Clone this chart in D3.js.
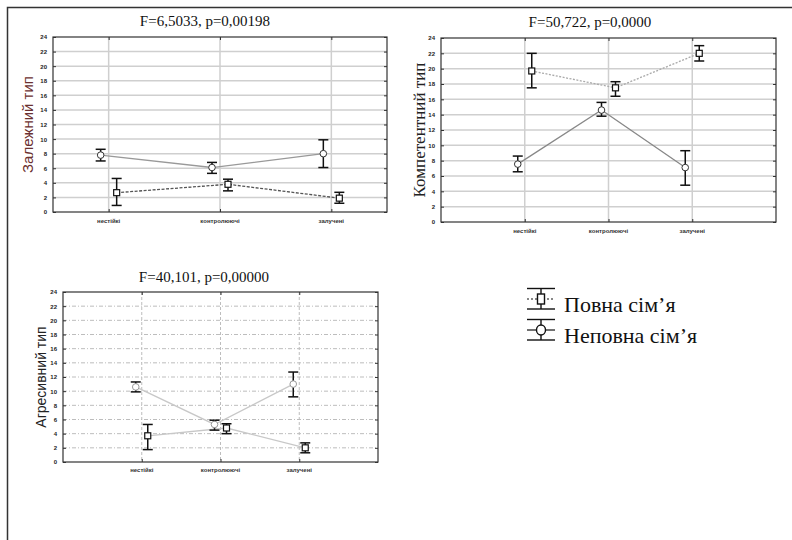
<!DOCTYPE html>
<html>
<head>
<meta charset="utf-8">
<script src="https://cdn.jsdelivr.net/npm/d3@7"></script>
<style>
  body { margin: 0; background: #fff; }
  svg { display: block; }
</style>
</head>
<body>
<div id="vis"></div>
<script>
// data
const categories = ["нестійкі", "контролюючі", "залучені"];
const yTicks = [0, 2, 4, 6, 8, 10, 12, 14, 16, 18, 20, 22, 24];
const seriesNames = ["Повна сім’я", "Неповна сім’я"];

const dependentFull = [2.65, 3.8, 1.9];
const dependentFullLo = [0.9, 2.9, 1.2];
const dependentFullHi = [4.6, 4.5, 2.7];
const dependentSingle = [7.8, 6.1, 8.0];
const dependentSingleLo = [7.0, 5.3, 6.1];
const dependentSingleHi = [8.6, 6.8, 9.9];

const competentFull = [19.7, 17.5, 22.0];
const competentFullLo = [17.5, 16.4, 21.0];
const competentFullHi = [22.0, 18.3, 23.0];
const competentSingle = [7.55, 14.6, 7.1];
const competentSingleLo = [6.55, 13.8, 4.8];
const competentSingleHi = [8.6, 15.6, 9.3];

const aggressiveFull = [3.7, 4.8, 2.0];
const aggressiveFullLo = [1.75, 4.0, 1.3];
const aggressiveFullHi = [5.3, 5.4, 2.7];
const aggressiveSingle = [10.6, 5.3, 11.0];
const aggressiveSingleLo = [9.9, 4.5, 9.2];
const aggressiveSingleHi = [11.3, 5.9, 12.7];

const width = 792;
const height = 540;

let svg = d3.select("#vis")
    .append("svg")
    .attr("width", width)
    .attr("height", height);

svg.append("rect").attr("width", width).attr("height", height).attr("fill", "#fff");

// page frame
svg.append("path")
    .attr("d", "M7.5,540 L7.5,7.5 L792,7.5")
    .attr("fill", "none")
    .attr("stroke", "#333")
    .attr("stroke-width", 1.5);

const toRows = (m, lo, hi) => m.map((v, i) => ({ i: i, v: v, lo: lo[i], hi: hi[i] }));

const panels = [
    {
        left: 53, right: 387, top: 37, bottom: 212, domain: [0.5, 3.5],
        title: "F=6,5033, p=0,00198", titleX: 205, titleY: 26,
        yTitle: "Залежний тип", yTitleX: 28, yTitleFont: "15px 'Liberation Sans', Arial, sans-serif", yTitleColor: "#6b3030",
        full: toRows(dependentFull, dependentFullLo, dependentFullHi),
        single: toRows(dependentSingle, dependentSingleLo, dependentSingleHi),
        fullLine: { color: "#555", dash: "3,1.5" }, singleLine: { color: "#999", dash: null },
        grid: { color: "#cfcfcf", dash: null, width: 1.5 }, off: 8, catY: 223, circleStroke: "#333"
    },
    {
        left: 441, right: 776, top: 38, bottom: 222, domain: [0, 4],
        title: "F=50,722, p=0,0000", titleX: 590, titleY: 27,
        yTitle: "Компетентний тип", yTitleX: 419, yTitleFont: "17px 'Liberation Serif', 'Times New Roman', serif", yTitleColor: "#222",
        full: toRows(competentFull, competentFullLo, competentFullHi),
        single: toRows(competentSingle, competentSingleLo, competentSingleHi),
        fullLine: { color: "#aaa", dash: "2,1.5" }, singleLine: { color: "#888", dash: null },
        grid: { color: "#cfcfcf", dash: null, width: 1.5 }, off: 7, catY: 233, circleStroke: "#333"
    },
    {
        left: 63, right: 378, top: 292, bottom: 462, domain: [0, 4],
        title: "F=40,101, p=0,00000", titleX: 204, titleY: 282,
        yTitle: "Агресивний тип", yTitleX: 41, yTitleFont: "14px 'Liberation Sans', Arial, sans-serif", yTitleColor: "#222",
        full: toRows(aggressiveFull, aggressiveFullLo, aggressiveFullHi),
        single: toRows(aggressiveSingle, aggressiveSingleLo, aggressiveSingleHi),
        fullLine: { color: "#c8c8c8", dash: null }, singleLine: { color: "#c8c8c8", dash: null },
        grid: { color: "#bdbdbd", dash: "4,2,1,2", width: 1 }, off: 6, catY: 472, circleStroke: "#999"
    }
];

const drawPanel = function (p) {
    let g = svg.append("g");

    let xScale = d3.scaleLinear().domain(p.domain).range([p.left, p.right]);
    let yScale = d3.scaleLinear().domain([0, 24]).range([p.bottom, p.top]);
    let cx = i => xScale(i + 1);

    //gridlines
    g.selectAll(".hgrid")
        .data(yTicks.filter(t => t > 0 && t < 24))
        .enter()
        .append("line")
        .attr("x1", p.left).attr("x2", p.right)
        .attr("y1", d => yScale(d)).attr("y2", d => yScale(d))
        .attr("stroke", p.grid.color)
        .attr("stroke-width", p.grid.width)
        .attr("stroke-dasharray", p.grid.dash);
    g.selectAll(".vgrid")
        .data(categories)
        .enter()
        .append("line")
        .attr("x1", (d, i) => cx(i)).attr("x2", (d, i) => cx(i))
        .attr("y1", p.top).attr("y2", p.bottom)
        .attr("stroke", p.grid.color)
        .attr("stroke-width", p.grid.width)
        .attr("stroke-dasharray", p.grid.dash ? "3,2" : null);

    //axes
    let yAxis = g.append("g")
        .attr("transform", "translate(" + p.left + ",0)")
        .call(d3.axisLeft(yScale).tickValues(yTicks).tickSize(-3).tickPadding(6));
    yAxis.select(".domain").remove();
    yAxis.selectAll("text")
        .style("font", "bold 6px 'Liberation Sans', Arial, sans-serif")
        .attr("fill", "#222");
    yAxis.selectAll("line").attr("stroke", "#333");

    g.append("g")
        .attr("transform", "translate(" + p.right + ",0)")
        .call(d3.axisRight(yScale).tickValues(yTicks).tickSize(-3).tickFormat(""))
        .call(a => a.select(".domain").remove())
        .selectAll("line").attr("stroke", "#333");

    let xAxis = g.append("g")
        .attr("transform", "translate(0," + p.bottom + ")")
        .call(d3.axisBottom(xScale).tickValues([1, 2, 3]).tickSize(-3).tickFormat(""));
    xAxis.select(".domain").remove();
    xAxis.selectAll("line").attr("stroke", "#333");

    g.append("g")
        .attr("transform", "translate(0," + p.top + ")")
        .call(d3.axisTop(xScale).tickValues([1, 2, 3]).tickSize(-3).tickFormat(""))
        .call(a => a.select(".domain").remove())
        .selectAll("line").attr("stroke", "#333");

    g.selectAll(".cat")
        .data(categories)
        .enter()
        .append("text")
        .attr("x", (d, i) => cx(i))
        .attr("y", p.catY)
        .attr("text-anchor", "middle")
        .style("font", "bold 6px 'Liberation Sans', Arial, sans-serif")
        .attr("fill", "#333")
        .text(d => d);

    //frame
    g.append("rect")
        .attr("x", p.left).attr("y", p.top)
        .attr("width", p.right - p.left).attr("height", p.bottom - p.top)
        .attr("fill", "none")
        .attr("stroke", "#333")
        .attr("stroke-width", 1.2);

    //titles
    g.append("text")
        .attr("x", p.titleX).attr("y", p.titleY)
        .attr("text-anchor", "middle")
        .style("font", "15px 'Liberation Serif', 'Times New Roman', serif")
        .attr("fill", "#111")
        .text(p.title);

    let yMid = (p.top + p.bottom) / 2;
    g.append("text")
        .attr("transform", "translate(" + p.yTitleX + "," + yMid + ") rotate(-90)")
        .attr("text-anchor", "middle")
        .attr("dy", "0.35em")
        .style("font", p.yTitleFont)
        .attr("fill", p.yTitleColor)
        .text(p.yTitle);

    //series lines
    let lineFull = d3.line().x(d => cx(d.i) + p.off).y(d => yScale(d.v));
    let lineSingle = d3.line().x(d => cx(d.i) - p.off).y(d => yScale(d.v));

    g.append("path")
        .datum(p.single)
        .attr("d", lineSingle)
        .attr("fill", "none")
        .attr("stroke", p.singleLine.color)
        .attr("stroke-width", 1.3)
        .attr("stroke-dasharray", p.singleLine.dash);
    g.append("path")
        .datum(p.full)
        .attr("d", lineFull)
        .attr("fill", "none")
        .attr("stroke", p.fullLine.color)
        .attr("stroke-width", 1.3)
        .attr("stroke-dasharray", p.fullLine.dash);

    //error bars
    const errorBars = function (rows, dx) {
        let eb = g.append("g");
        eb.selectAll(".stem")
            .data(rows).enter().append("line")
            .attr("x1", d => cx(d.i) + dx).attr("x2", d => cx(d.i) + dx)
            .attr("y1", d => yScale(d.lo)).attr("y2", d => yScale(d.hi))
            .attr("stroke", "#111").attr("stroke-width", 1.5);
        ["lo", "hi"].forEach(k => {
            eb.selectAll(".cap-" + k)
                .data(rows).enter().append("line")
                .attr("x1", d => cx(d.i) + dx - 5).attr("x2", d => cx(d.i) + dx + 5)
                .attr("y1", d => yScale(d[k])).attr("y2", d => yScale(d[k]))
                .attr("stroke", "#111").attr("stroke-width", 1.5);
        });
    };
    errorBars(p.single, -p.off);
    errorBars(p.full, p.off);

    //markers
    g.selectAll(".circ")
        .data(p.single).enter().append("circle")
        .attr("cx", d => cx(d.i) - p.off)
        .attr("cy", d => yScale(d.v))
        .attr("r", 3.3)
        .attr("fill", "#fff")
        .attr("stroke", p.circleStroke)
        .attr("stroke-width", 1);
    g.selectAll(".sq")
        .data(p.full).enter().append("rect")
        .attr("x", d => cx(d.i) + p.off - 3)
        .attr("y", d => yScale(d.v) - 3)
        .attr("width", 6).attr("height", 6)
        .attr("fill", "#fff")
        .attr("stroke", "#111")
        .attr("stroke-width", 1.2);
};

panels.forEach(drawPanel);

//legend
let legend = svg.append("g");
const legendRows = [
    { name: seriesNames[0], y: 299, dash: "2,2", shape: "square" },
    { name: seriesNames[1], y: 330, dash: null, shape: "circle" }
];
legendRows.forEach(r => {
    let lg = legend.append("g").attr("transform", "translate(541," + r.y + ")");
    lg.append("line").attr("x1", -14).attr("x2", 14).attr("y1", 0).attr("y2", 0)
        .attr("stroke", "#111").attr("stroke-width", 1.2).attr("stroke-dasharray", r.dash);
    lg.append("line").attr("x1", 0).attr("x2", 0).attr("y1", -10.5).attr("y2", 10)
        .attr("stroke", "#111").attr("stroke-width", 1.4);
    [-10.5, 10].forEach(yy => {
        lg.append("line").attr("x1", -14).attr("x2", 14).attr("y1", yy).attr("y2", yy)
            .attr("stroke", "#111").attr("stroke-width", 1.4);
    });
    if (r.shape === "square") {
        lg.append("rect").attr("x", -3.5).attr("y", -5).attr("width", 7).attr("height", 10)
            .attr("fill", "#fff").attr("stroke", "#111").attr("stroke-width", 1.4);
    } else {
        lg.append("ellipse").attr("rx", 4.5).attr("ry", 5)
            .attr("fill", "#fff").attr("stroke", "#111").attr("stroke-width", 1.4);
    }
    lg.append("text")
        .attr("x", 23).attr("y", 13)
        .style("font", "22px 'Liberation Serif', 'Times New Roman', serif")
        .attr("fill", "#111")
        .text(r.name);
});
</script>
</body>
</html>
